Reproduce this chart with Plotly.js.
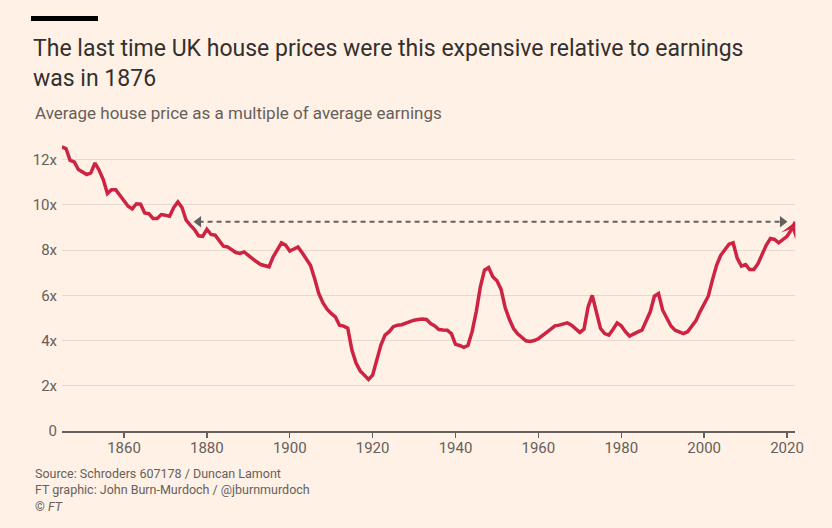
<!DOCTYPE html>
<html>
<head>
<meta charset="utf-8">
<script src="https://cdn.plot.ly/plotly-3.0.1.min.js"></script>
<style>
  html, body { margin: 0; padding: 0; background: #fff1e5; }
  #chart { width: 832px; height: 528px; }
</style>
</head>
<body>
<div id="chart"></div>
<script>
// Years (annual)
const years = [];
for (let y = 1845; y <= 2022; y++) years.push(y);

// Average house price as a multiple of average earnings
const priceToEarnings = [
  12.56, 12.49, 11.97, 11.90, 11.56, 11.45, 11.34, 11.41, 11.85, 11.53, // 1845-1854
  11.12, 10.50, 10.67, 10.67, 10.42, 10.18, 9.94, 9.82, 10.05, 10.03,   // 1855-1864
  9.64, 9.61, 9.40, 9.40, 9.57, 9.54, 9.50, 9.88, 10.13, 9.88,          // 1865-1874
  9.32, 9.10, 8.91, 8.63, 8.61, 8.92, 8.69, 8.66, 8.39, 8.17,           // 1875-1884
  8.14, 8.02, 7.89, 7.85, 7.92, 7.77, 7.60, 7.48, 7.36, 7.29,           // 1885-1894
  7.26, 7.70, 8.00, 8.32, 8.22, 7.96, 8.05, 8.14, 7.88, 7.63,           // 1895-1904
  7.33, 6.74, 6.08, 5.67, 5.39, 5.20, 5.05, 4.68, 4.64, 4.55,           // 1905-1914
  3.58, 3.00, 2.66, 2.47, 2.28, 2.47, 3.14, 3.80, 4.24, 4.39,           // 1915-1924
  4.61, 4.68, 4.70, 4.78, 4.85, 4.90, 4.93, 4.95, 4.93, 4.75,           // 1925-1934
  4.65, 4.49, 4.47, 4.46, 4.31, 3.83, 3.78, 3.70, 3.78, 4.39,           // 1935-1944
  5.27, 6.37, 7.11, 7.23, 6.82, 6.64, 6.26, 5.45, 4.94, 4.53,           // 1945-1954
  4.30, 4.13, 3.99, 3.96, 4.00, 4.08, 4.20, 4.36, 4.50, 4.65,           // 1955-1964
  4.68, 4.72, 4.78, 4.68, 4.50, 4.36, 4.50, 5.49, 6.00, 5.27,           // 1965-1974
  4.53, 4.31, 4.24, 4.49, 4.78, 4.65, 4.39, 4.20, 4.31, 4.38,           // 1975-1984
  4.46, 4.83, 5.27, 5.96, 6.08, 5.34, 4.95, 4.64, 4.46, 4.38,           // 1985-1994
  4.31, 4.39, 4.63, 4.87, 5.27, 5.60, 5.96, 6.67, 7.33, 7.77,           // 1995-2004
  7.99, 8.26, 8.32, 7.63, 7.29, 7.36, 7.14, 7.14, 7.40, 7.84,           // 2005-2014
  8.22, 8.51, 8.47, 8.32, 8.45, 8.61, 8.88, 9.25                        // 2015-2022
];

// Dashed reference level (same level as 1876)
const levelYears = [1878, 2018.9];
const levelValues = [9.25, 9.25];

// Tick labels
const xTickVals = [1860, 1880, 1900, 1920, 1940, 1960, 1980, 2000, 2020];
const xTickText = ['1860', '1880', '1900', '1920', '1940', '1960', '1980', '2000', '2020'];
const yTickVals = [0, 2, 4, 6, 8, 10, 12];
const yTickText = ['0', '2x', '4x', '6x', '8x', '10x', '12x'];

const n = years.length;
const FONT = 'Roboto, "Noto Sans", sans-serif';
const RED = '#cc2442';
const GREY = '#66605c';

const traces = [
  {
    x: levelYears, y: levelValues, type: 'scatter', mode: 'lines+markers',
    line: {color: GREY, width: 2, dash: '5px,4px'},
    marker: {symbol: ['triangle-left', 'triangle-right'], size: 10, color: GREY},
    hoverinfo: 'skip', cliponaxis: false
  },
  {
    x: years, y: priceToEarnings, type: 'scatter', mode: 'lines',
    line: {color: RED, width: 3.5},
    cliponaxis: false
  }
];

const layout = {
  width: 832, height: 528,
  paper_bgcolor: '#fff1e5', plot_bgcolor: '#fff1e5',
  margin: {l: 62, r: 37, t: 137, b: 97},
  showlegend: false,
  font: {family: FONT, color: GREY},
  title: {
    text: 'The last time UK house prices were this expensive relative to earnings<br>was in 1876',
    x: 33 / 832, xanchor: 'left', xref: 'container',
    y: 1 - 56 / 528, yanchor: 'top', yref: 'container',
    font: {family: FONT, size: 23, color: '#33302e'}
  },
  xaxis: {
    range: [1845.04, 2021.93],
    tickvals: xTickVals, ticktext: xTickText,
    showgrid: false, zeroline: false,
    showline: true, linecolor: GREY, linewidth: 1.5,
    ticks: 'outside', ticklen: 5, tickcolor: GREY, tickwidth: 1.5,
    ticklabelstandoff: -3,
    tickfont: {size: 15, color: GREY}
  },
  yaxis: {
    range: [0, 13],
    tickvals: yTickVals, ticktext: yTickText,
    showgrid: true, gridcolor: '#e6d9cd', gridwidth: 1,
    zeroline: false, showline: false, ticks: '',
    ticklabelstandoff: 4,
    tickfont: {size: 15, color: GREY}
  },
  shapes: [
    {type: 'rect', xref: 'paper', yref: 'paper',
     x0: (31 - 62) / 733, x1: (98 - 62) / 733,
     y0: (431 - 21) / 294, y1: (431 - 16) / 294,
     fillcolor: '#000000', line: {width: 0}}
  ],
  annotations: [
    {
      xref: 'paper', yref: 'paper', x: (33 - 62) / 733, y: (431 - 113) / 294,
      xanchor: 'left', yanchor: 'middle', showarrow: false, align: 'left',
      text: 'Average house price as a multiple of average earnings',
      font: {family: FONT, size: 17, color: GREY}
    },
    {
      xref: 'paper', yref: 'paper', x: (33 - 62) / 733, y: (431 - 490) / 294,
      xanchor: 'left', yanchor: 'middle', showarrow: false, align: 'left',
      text: 'Source: Schroders 607178 / Duncan Lamont<br>FT graphic: John Burn-Murdoch / @jburnmurdoch<br>© <i>FT</i>',
      font: {family: FONT, size: 12.5, color: GREY}
    },
    {
      xref: 'x', yref: 'y', axref: 'x', ayref: 'y',
      x: years[n - 1], y: priceToEarnings[n - 1],
      ax: years[n - 2], ay: priceToEarnings[n - 2],
      showarrow: true, arrowhead: 3, arrowsize: 0.75, arrowwidth: 3.5,
      arrowcolor: RED, text: ''
    }
  ]
};

Plotly.newPlot('chart', traces, layout, {staticPlot: true, displayModeBar: false});
</script>
</body>
</html>
